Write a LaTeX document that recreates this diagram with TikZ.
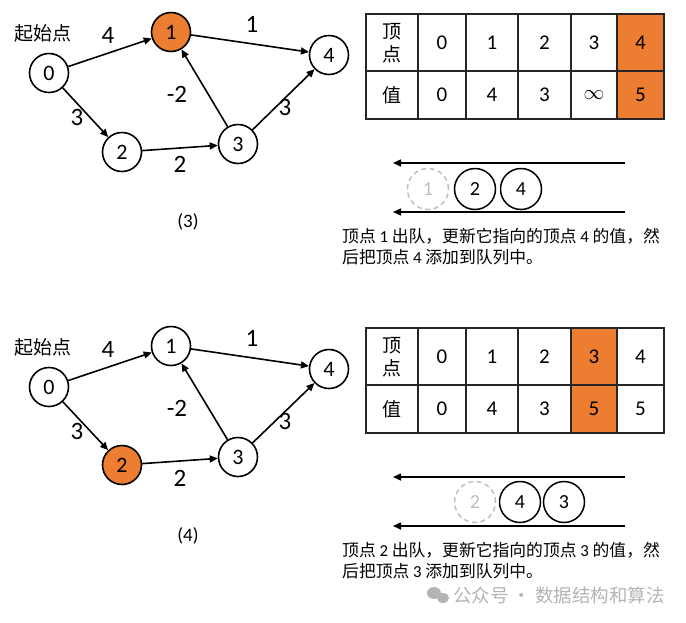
\documentclass[tikz,border=0pt]{standalone}
\usepackage{fontspec}
\setmainfont{Carlito}
\newfontfamily\cjk{Noto Sans CJK SC}
\usetikzlibrary{arrows.meta}
\definecolor{org}{HTML}{ED7D31}
\definecolor{ghost}{HTML}{BFBFBF}
\definecolor{wm}{HTML}{B4B4B4}
\begin{document}
\begin{tikzpicture}[x=1pt,y=-1pt,
  vtx/.style={circle,draw,line width=1.6pt,minimum size=39pt,inner sep=0pt,font=\fontsize{22}{22}\selectfont},
  hot/.style={fill=org},
  edge/.style={line width=1.6pt,-{Triangle[length=8pt,width=7pt]}},
  elab/.style={font=\fontsize{25}{25}\selectfont,inner sep=0pt},
  qv/.style={circle,draw,line width=1.5pt,minimum size=41pt,inner sep=0pt,font=\fontsize{20}{20}\selectfont},
  qghost/.style={qv,draw=ghost,text=ghost,dashed,dash pattern=on 5pt off 3.5pt},
  qarrow/.style={line width=1.6pt,-{Triangle[length=8pt,width=7pt]}},
  cell/.style={inner sep=0pt,font=\fontsize{21}{21}\selectfont},
  ccell/.style={inner sep=0pt,align=center,font=\cjk\fontsize{19}{23}\selectfont},
  desc/.style={inner sep=0pt,align=left,anchor=west,font=\cjk\fontsize{16.8}{21}\selectfont},
  tgrid/.style={line width=1.6pt,draw=black!85},
  captext/.style={font=\fontsize{19}{19}\selectfont,inner sep=0pt},
  start/.style={inner sep=0pt,font=\cjk\fontsize{19}{19}\selectfont}
]
\useasboundingbox (0,0) rectangle (686,622);

% ================= panel (3) =================
\begin{scope}
\node[start] (sa) at (43,33) {起始点};
\node[vtx] (a0) at (49,73) {0};
\node[vtx,hot] (a1) at (171,32) {1};
\node[vtx] (a2) at (122,152) {2};
\node[vtx] (a3) at (238,144) {3};
\node[vtx] (a4) at (329,55) {4};
\draw[edge] (a0) -- (a1);
\draw[edge] (a0) -- (a2);
\draw[edge] (a1) -- (a4);
\draw[edge] (a2) -- (a3);
\draw[edge] (a3) -- (a1);
\draw[edge] (a3) -- (a4);
\node[elab] (la01) at (108,35) {4};
\node[elab] (la02) at (77,117) {3};
\node[elab] (la14) at (252,24) {1};
\node[elab] (la31) at (177,94) {-2};
\node[elab] (la34) at (285,107) {3};
\node[elab] (la23) at (180,164) {2};
\node[captext] (capa) at (188,222) {(3)};

% table
\fill[org] (617,14) rectangle (664,119);
\draw[tgrid] (366,14) rectangle (664,119);
\draw[tgrid] (366,71) -- (664,71);
\foreach \x in {418,466,518,571,617} \draw[tgrid] (\x,14) -- (\x,119);
\node[ccell] (ta0) at (392,43) {顶\\点};
\node[ccell] (tb0) at (392,95) {值};
\node[cell] (ta1) at (442,43) {0};
\node[cell] (ta2) at (492,43) {1};
\node[cell] (ta3) at (544.5,43) {2};
\node[cell] (ta4) at (594,43) {3};
\node[cell] (ta5) at (640.5,43) {4};
\node[cell] (tb1) at (442,95) {0};
\node[cell] (tb2) at (492,95) {4};
\node[cell] (tb3) at (544.5,95) {3};
\node[cell] (tb4) at (594,95) {$\infty$};
\node[cell] (tb5) at (640.5,95) {5};

% queue
\coordinate (qa1s) at (625,163);
\coordinate (qa1e) at (393,163);
\coordinate (qa2s) at (625,212);
\coordinate (qa2e) at (393,212);
\draw[qarrow] (qa1s) -- (qa1e);
\draw[qarrow] (qa2s) -- (qa2e);
\node[qghost] (qa) at (428,189) {1};
\node[qv] (qb) at (475,189) {2};
\node[qv] (qc) at (521,189) {4};

\node[desc] (da) at (342,247) {顶点 {\rmfamily 1} 出队，更新它指向的顶点 {\rmfamily 4} 的值，然\\后把顶点 {\rmfamily 4} 添加到队列中。};
\end{scope}

% ================= panel (4) =================
\begin{scope}[yshift=-314pt]
\node[start] (sb) at (43,33) {起始点};
\node[vtx] (b0) at (49,73) {0};
\node[vtx] (b1) at (171,32) {1};
\node[vtx,hot] (b2) at (122,151) {2};
\node[vtx] (b3) at (238,143) {3};
\node[vtx] (b4) at (329,55) {4};
\draw[edge] (b0) -- (b1);
\draw[edge] (b0) -- (b2);
\draw[edge] (b1) -- (b4);
\draw[edge] (b2) -- (b3);
\draw[edge] (b3) -- (b1);
\draw[edge] (b3) -- (b4);
\node[elab] (lb01) at (108,35) {4};
\node[elab] (lb02) at (77,117) {3};
\node[elab] (lb14) at (252,24) {1};
\node[elab] (lb31) at (177,94) {-2};
\node[elab] (lb34) at (285,107) {3};
\node[elab] (lb23) at (180,164) {2};
\node[captext] (capb) at (188,222) {(4)};

% table
\fill[org] (571,14) rectangle (617,119);
\draw[tgrid] (366,14) rectangle (664,119);
\draw[tgrid] (366,71) -- (664,71);
\foreach \x in {418,466,518,571,617} \draw[tgrid] (\x,14) -- (\x,119);
\node[ccell] (tc0) at (392,43) {顶\\点};
\node[ccell] (td0) at (392,95) {值};
\node[cell] (tc1) at (442,43) {0};
\node[cell] (tc2) at (492,43) {1};
\node[cell] (tc3) at (544.5,43) {2};
\node[cell] (tc4) at (594,43) {3};
\node[cell] (tc5) at (640.5,43) {4};
\node[cell] (td1) at (442,95) {0};
\node[cell] (td2) at (492,95) {4};
\node[cell] (td3) at (544.5,95) {3};
\node[cell] (td4) at (594,95) {5};
\node[cell] (td5) at (640.5,95) {5};

% queue
\coordinate (qb1s) at (625,163);
\coordinate (qb1e) at (393,163);
\coordinate (qb2s) at (625,212);
\coordinate (qb2e) at (393,212);
\draw[qarrow] (qb1s) -- (qb1e);
\draw[qarrow] (qb2s) -- (qb2e);
\node[qghost] (qd) at (475,188) {2};
\node[qv] (qe) at (520,188) {4};
\node[qv] (qf) at (564,188) {3};

\node[desc] (db) at (342,247) {顶点 {\rmfamily 2} 出队，更新它指向的顶点 {\rmfamily 3} 的值，然\\后把顶点 {\rmfamily 3} 添加到队列中。};
\end{scope}

% watermark
\fill[wm] (434,593) ellipse (7pt and 6pt);
\fill[wm] (443,598) ellipse (6pt and 5pt);
\node[inner sep=0pt,anchor=west,text=wm,font=\cjk\fontsize{18.5}{18.5}\selectfont] (wmk) at (453,595) {公众号 · 数据结构和算法};
\end{tikzpicture}
\end{document}
